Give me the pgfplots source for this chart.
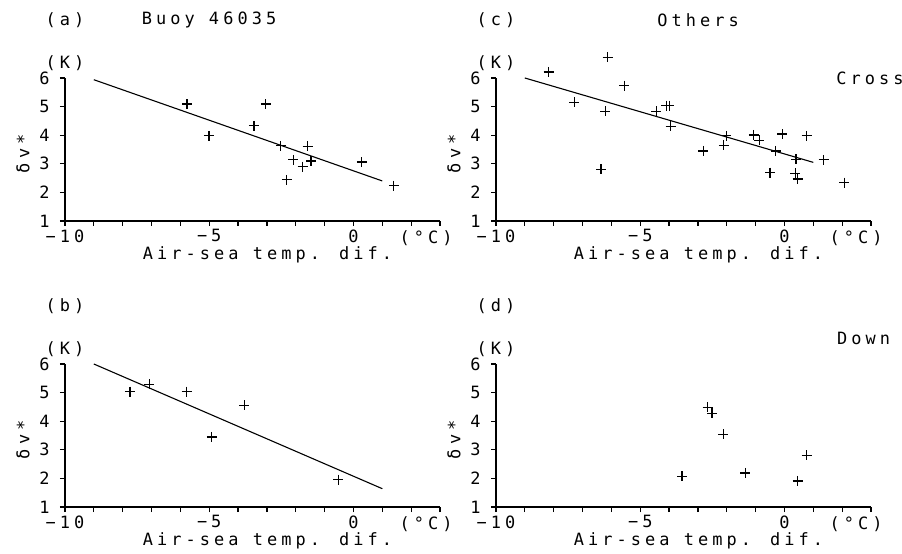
\documentclass[border=0pt]{standalone}
\usepackage{fontspec}
\setmainfont{DejaVu Sans Mono}[LetterSpace=24]
\usepackage{pgfplots}
\pgfplotsset{compat=1.18}

\pgfplotsset{
  panel/.style={
    scale only axis, width=375bp, height=143bp,
    xmin=-10, xmax=3, ymin=1, ymax=6,
    axis x line=bottom, axis y line=left,
    axis line style={-, line width=1.5bp},
    xtick={-10,-5,0}, xticklabels={−10,−5,0},
    minor xtick={-9,...,3},
    ytick={1,...,6}, yticklabels={1,2,3,4,5,6},
    tick align=outside, major tick length=5bp, minor tick length=5bp,
    tick style={black, line width=1.2bp},
    yticklabel style={xshift=-7bp},
    /pgf/number format/assume math mode=true,
    xlabel={Air-sea temp. dif.}, ylabel={δv*},
    xlabel style={at={(axis description cs:0.54,0)}, anchor=center, yshift=-34bp},
    ylabel style={at={(axis description cs:-0.112,0.47)}, anchor=center},
    clip=false,
  },
  pts/.style={only marks, mark=+, mark size=5bp, line width=1.2bp, black},
  fit/.style={black, line width=1.1bp, no marks},
}

\begin{document}
\begin{tikzpicture}[font=\fontsize{17}{20}\selectfont]
\path[use as bounding box] (0,0) rectangle (902bp,554bp);

% (a) Buoy 46035
\begin{axis}[panel, at={(65bp,333bp)}, anchor=south west]
\addplot[pts] coordinates {
  (-5.77,5.09) (-5.01,3.98) (-3.04,5.09) (-3.45,4.33) (-2.52,3.63)
  (-2.08,3.14) (-2.31,2.44) (-1.76,2.90) (-1.59,3.61) (-1.47,3.10)
  (0.29,3.06) (1.40,2.24)};
\addplot[fit] coordinates {(-9,5.94) (1,2.40)};
\node at (rel axis cs:0,1) [yshift=15bp] {(K)};
\node at (rel axis cs:0.963,0) [yshift=-17bp] {(°C)};
\node at (rel axis cs:0,1) [yshift=58bp] {(a)};
\node at (rel axis cs:0.384,1) [yshift=58bp] {Buoy 46035};
\end{axis}

% (b)
\begin{axis}[panel, at={(65bp,47bp)}, anchor=south west]
\addplot[pts] coordinates {
  (-7.75,5.03) (-7.08,5.29) (-5.78,5.03) (-3.78,4.56) (-4.91,3.45)
  (-0.52,1.96)};
\addplot[fit] coordinates {(-9,6.00) (1,1.64)};
\node at (rel axis cs:0,1) [yshift=15bp] {(K)};
\node at (rel axis cs:0.963,0) [yshift=-17bp] {(°C)};
\node at (rel axis cs:0,1) [yshift=58bp] {(b)};
\end{axis}

% (c) Others, Cross
\begin{axis}[panel, at={(496bp,333bp)}, anchor=south west]
\addplot[pts] coordinates {
  (-8.18,6.21) (-6.13,6.72) (-5.55,5.73) (-7.28,5.15) (-6.21,4.83)
  (-6.36,2.81) (-4.45,4.83) (-4.10,5.03) (-3.99,5.03) (-3.95,4.31)
  (-2.81,3.45) (-2.10,3.64) (-2.02,3.98) (-1.06,4.01) (-0.87,3.82)
  (-0.08,4.04) (-0.31,3.45) (-0.50,2.69) (0.40,3.16) (0.38,2.67)
  (0.46,2.47) (0.77,3.98) (1.36,3.14) (2.08,2.34)};
\addplot[fit] coordinates {(-9,6.00) (1,3.05)};
\node at (rel axis cs:0,1) [yshift=15bp] {(K)};
\node at (rel axis cs:0.96,0) [yshift=-17bp] {(°C)};
\node at (rel axis cs:0,1) [yshift=58bp] {(c)};
\node at (rel axis cs:0.539,1) [yshift=58bp] {Others};
\node at (rel axis cs:0.997,1) {Cross};
\end{axis}

% (d) Down
\begin{axis}[panel, at={(496bp,47bp)}, anchor=south west]
\addplot[pts] coordinates {
  (-3.55,2.07) (-2.66,4.48) (-2.51,4.27) (-2.12,3.54) (-1.36,2.19)
  (0.46,1.91) (0.77,2.81)};
\node at (rel axis cs:0,1) [yshift=15bp] {(K)};
\node at (rel axis cs:0.96,0) [yshift=-17bp] {(°C)};
\node at (rel axis cs:0,1) [yshift=58bp] {(d)};
\node at (rel axis cs:0.98,1) [yshift=26bp] {Down};
\end{axis}
\end{tikzpicture}
\end{document}
